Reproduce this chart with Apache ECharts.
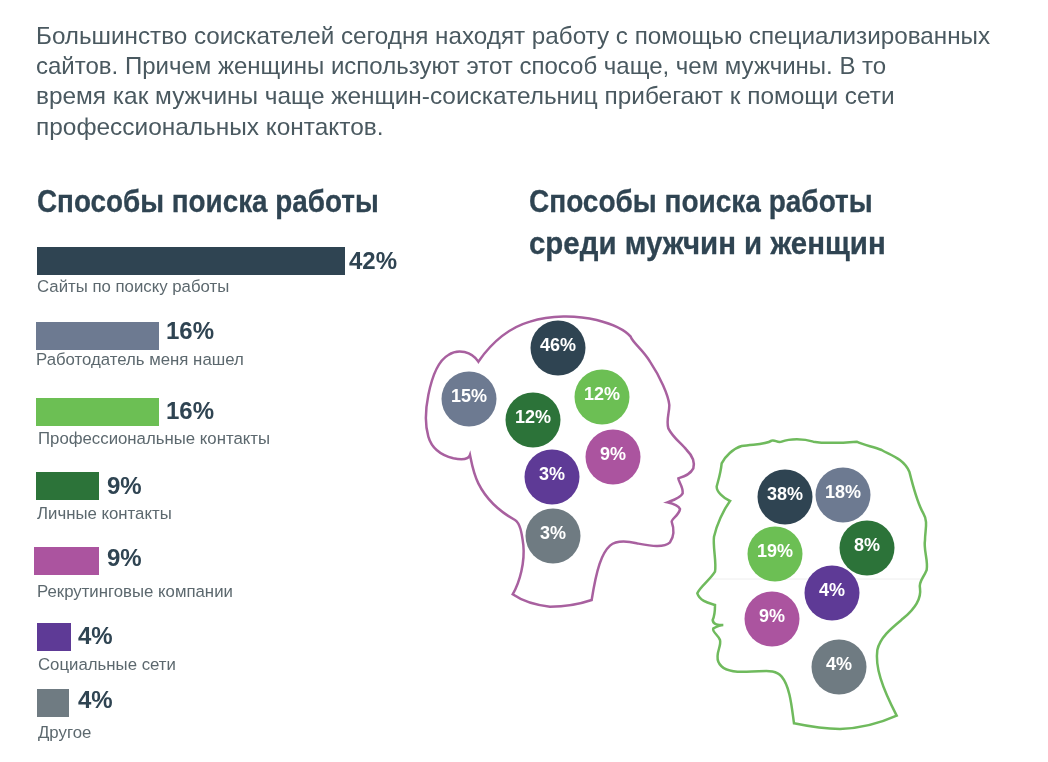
<!DOCTYPE html>
<html><head><meta charset="utf-8">
<style>html,body{margin:0;padding:0;background:#fff}#c{width:1048px;height:762px}</style>
<script src="https://cdn.jsdelivr.net/npm/echarts@6/dist/echarts.min.js"></script>
</head><body><div id="c"></div>
<script>
const introLines = [
  'Большинство соискателей сегодня находят работу с помощью специализированных',
  'сайтов. Причем женщины используют этот способ чаще, чем мужчины. В то',
  'время как мужчины чаще женщин-соискательниц прибегают к помощи сети',
  'профессиональных контактов.'
];
const titleLeft = 'Способы поиска работы';
const titleRight = ['Способы поиска работы','среди мужчин и женщин'];
const categories = ['Сайты по поиску работы','Работодатель меня нашел','Профессиональные контакты','Личные контакты','Рекрутинговые компании','Социальные сети','Другое'];
const totalValues = [42,16,16,9,9,4,4];
const colors = ['#2f4452','#6d7a91','#6cbf54','#2c7339','#ab549f','#5e3a96','#6f7b82'];

const womenValues = [46,15,12,12,9,3,3];
const womenX = [558,469,602,533,613,552,553];
const womenY = [348,399,397,420,457,477,536];
const menValues = [38,18,19,8,9,4,4];
const menX = [785,843,775,867,772,832,839];
const menY = [497,495,554,548,619,593,667];

// layout of the bar rows (px)
const barLeft = [37,36,36,36,34,37,37];
const barTop = [247,322,398,472,547,623,689];
const barLen = [308,123,123,63,65,34,32];
const barLabelDist = [4,7,7,8,8,7,9];
const barLabelDy = [1,-4,0,1,-2,0,-2];
const catX = [37,36,38,37,37,38,38];
const catY = [287,360,439,514,592,665,733];

const womanPath = 'M175,170 C210,120 260,70 330,50 C390,30 470,30 530,45 C580,58 615,75 632,95 C640,115 670,135 690,170 C720,215 745,270 748,300 C748,325 738,345 745,370 C760,400 785,415 800,435 C815,450 825,470 820,490 C810,510 790,515 775,520 C775,530 790,545 788,565 C780,580 760,585 742,592 C755,595 775,600 780,612 C778,630 755,640 755,650 C762,670 762,695 750,712 C730,730 690,722 650,715 C620,708 590,705 570,722 C545,745 530,790 515,885 C480,897 430,905 390,905 C340,900 310,890 278,868 C300,830 315,770 310,720 C305,680 300,655 285,645 C240,620 200,585 175,535 C160,505 155,475 150,450 C145,465 125,465 100,460 C60,450 35,430 25,395 C15,360 15,320 25,270 C35,220 50,170 85,150 C115,130 155,140 175,170 Z';
const manPath = 'M120,213 C100,205 80,185 80,170 C85,150 92,130 95,100 C105,80 130,55 155,48 C190,42 225,45 245,32 C255,28 262,40 275,35 C300,25 340,25 370,35 C400,40 440,40 500,35 C520,45 550,50 575,60 C600,75 640,85 658,125 C670,170 680,215 700,250 C715,275 705,300 705,330 C700,360 715,390 710,420 C700,445 685,455 690,475 C695,510 670,540 640,565 C610,590 570,620 562,660 C555,710 575,770 620,857 C580,875 520,895 450,897 C400,897 350,888 312,880 C305,830 300,770 275,740 C255,715 225,725 170,725 C130,727 95,720 85,695 C75,670 95,650 90,630 C85,615 65,605 70,595 C80,590 90,585 100,585 C85,585 70,585 68,570 C75,555 75,540 75,525 C60,520 30,515 22,490 C30,470 60,450 75,425 C80,395 68,350 72,320 C80,285 100,240 120,213 Z';

const SANS = '"Liberation Sans",sans-serif';
const grids = [], xAxes = [], yAxes = [], series = [];
categories.forEach((c,i)=>{
  const axisMax = 42;
  grids.push({left:barLeft[i],top:barTop[i],width:barLen[i]*axisMax/totalValues[i],height:28});
  xAxes.push({type:'value',gridIndex:i,min:0,max:axisMax,show:false});
  yAxes.push({type:'category',gridIndex:i,data:[c],show:false});
  series.push({type:'bar',xAxisIndex:i,yAxisIndex:i,barWidth:28,silent:true,
    data:[{value:totalValues[i],itemStyle:{color:colors[i]}}],
    label:{show:true,position:'right',distance:barLabelDist[i],offset:[0,barLabelDy[i]],formatter:'{c}%',
      fontFamily:SANS,fontWeight:'bold',fontSize:24,color:'#2f4452'}});
});
// full-page pixel grid for the bubbles
const gi = categories.length;
grids.push({left:0,top:0,width:1048,height:762});
xAxes.push({type:'value',gridIndex:gi,min:0,max:1048,show:false});
yAxes.push({type:'value',gridIndex:gi,min:0,max:762,inverse:true,show:false});
function bubbles(xs,ys,vals){
  return {type:'scatter',xAxisIndex:gi,yAxisIndex:gi,symbolSize:55,silent:true,z:5,
    data:vals.map((v,i)=>({value:[xs[i],ys[i],v],itemStyle:{color:colors[i],opacity:1}})),
    label:{show:true,position:'inside',offset:[0,-2],formatter:p=>p.value[2]+'%',
      fontFamily:SANS,fontWeight:'bold',fontSize:18,color:'#fff'}};
}
function head(pathData,x,y,stroke){
  return {type:'custom',xAxisIndex:gi,yAxisIndex:gi,silent:true,z:1,clip:false,data:[[0,0]],
    renderItem:()=>({type:'path',x,y,scaleX:1/3,scaleY:1/3,shape:{pathData},
      style:{fill:'none',stroke,lineWidth:7.5}})};
}
series.push(head(womanPath,420,305,'#a8609f'),head(manPath,690,430,'#6fba5d'),
  bubbles(womenX,womenY,womenValues), bubbles(menX,menY,menValues));

const graphic = [
  {type:'line',shape:{x1:708,y1:579,x2:922,y2:579},style:{stroke:'#eeeeee',lineWidth:1},silent:true}
];
function txt(text,x,y,font,fill,scaleX,bold){
  const style={text,font,fill,verticalAlign:'middle',align:'left'};
  if(bold){style.stroke=fill;style.lineWidth=bold;}
  graphic.push({type:'text',x,y,scaleX:scaleX||1,silent:true,style});
}
const introY=[37,67,97.5,128], introScale=[1.0095,1,1.0166,1.0176];
introLines.forEach((t,i)=>txt(t,36,introY[i],'24px '+SANS,'#4a5960',introScale[i]));
txt(titleLeft,37,203,'bold 32px '+SANS,'#2f4452',0.87,0.3);
txt(titleRight[0],529,203,'bold 32px '+SANS,'#2f4452',0.875,0.3);
txt(titleRight[1],529,245,'bold 32px '+SANS,'#2f4452',0.92,0.3);
categories.forEach((c,i)=>txt(c,catX[i],catY[i],'16.8px '+SANS,'#5c686e',1));

const chart = echarts.init(document.getElementById('c'),null,{renderer:'canvas'});
chart.setOption({animation:false,backgroundColor:'#fff',grid:grids,xAxis:xAxes,yAxis:yAxes,series,graphic});
</script></body></html>
